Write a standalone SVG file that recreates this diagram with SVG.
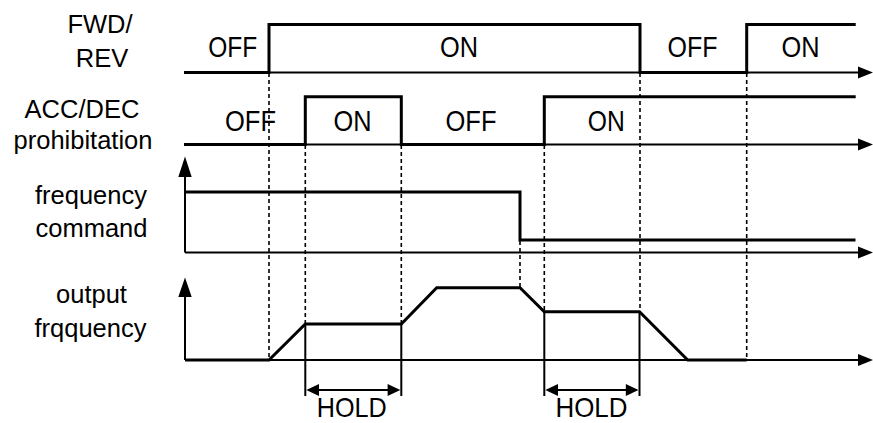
<svg xmlns="http://www.w3.org/2000/svg" width="873" height="423" viewBox="0 0 873 423">
<style>
.lbl{font-family:"Liberation Sans",Arial,sans-serif;font-size:25.5px;fill:#000;text-anchor:middle}
.st{font-family:"Liberation Sans",Arial,sans-serif;font-size:30px;fill:#000;text-anchor:middle}
.hold{font-family:"Liberation Sans",Arial,sans-serif;font-size:27.5px;fill:#000;text-anchor:middle}
.axis{fill:none;stroke:#000;stroke-width:2}
.sig{fill:none;stroke:#000;stroke-width:3;stroke-linejoin:miter}
.dash{fill:none;stroke:#000;stroke-width:1.6;stroke-dasharray:4 3}
.solid{fill:none;stroke:#000;stroke-width:2}
.head{fill:#000}
</style>
<rect width="873" height="423" fill="#fff"/>
<g id="labels">
<text class="lbl" x="100" y="33">FWD/</text>
<text class="lbl" x="102" y="66.5">REV</text>
<text class="lbl" x="82" y="118">ACC/DEC</text>
<text class="lbl" x="83" y="149">prohibitation</text>
<text class="lbl" x="91" y="203.5">frequency</text>
<text class="lbl" x="91.5" y="236.5">command</text>
<text class="lbl" x="91.5" y="303">output</text>
<text class="lbl" x="90.5" y="336.5">frqquency</text>
</g>
<g id="guides">
<line class="dash" x1="269" y1="73" x2="269" y2="360"/>
<line class="dash" x1="305.3" y1="145" x2="305.3" y2="324"/>
<line class="dash" x1="401.3" y1="145" x2="401.3" y2="324"/>
<line class="dash" x1="520" y1="241" x2="520" y2="288"/>
<line class="dash" x1="544.3" y1="145" x2="544.3" y2="311.7"/>
<line class="dash" x1="640" y1="73" x2="640" y2="311.7"/>
<line class="dash" x1="746.7" y1="73" x2="746.7" y2="360"/>
</g>
<g id="axes">
<line class="axis" x1="184" y1="72.5" x2="860" y2="72.5"/>
<polygon class="head" points="873,72.5 858,66.5 858,78.5"/>
<line class="axis" x1="184" y1="144.5" x2="860" y2="144.5"/>
<polygon class="head" points="873,144.5 858,138.5 858,150.5"/>
<line class="axis" x1="185" y1="252.5" x2="860" y2="252.5"/>
<polygon class="head" points="873,252.5 858,246.5 858,258.5"/>
<line class="axis" x1="185" y1="252.5" x2="185" y2="170"/>
<polygon class="head" points="185,156.5 178.3,177 191.7,177"/>
<line class="axis" x1="185" y1="360" x2="860" y2="360"/>
<polygon class="head" points="873,360 858,354 858,366"/>
<line class="axis" x1="185" y1="360" x2="185" y2="290"/>
<polygon class="head" points="185,277.5 178.3,297 191.7,297"/>
</g>
<g id="fwd-rev">
<polyline class="sig" points="184,72.5 269,72.5 269,24.5 640,24.5 640,72.5 746.7,72.5 746.7,24.5 855.7,24.5"/>
<text class="st" x="232.8" y="57" textLength="49" lengthAdjust="spacingAndGlyphs">OFF</text>
<text class="st" x="459" y="57" textLength="38" lengthAdjust="spacingAndGlyphs">ON</text>
<text class="st" x="692.5" y="57" textLength="50" lengthAdjust="spacingAndGlyphs">OFF</text>
<text class="st" x="800.5" y="57" textLength="38" lengthAdjust="spacingAndGlyphs">ON</text>
</g>
<g id="acc-dec">
<polyline class="sig" points="184,144.5 305.3,144.5 305.3,96.7 401.3,96.7 401.3,144.5 544.3,144.5 544.3,96.7 855.7,96.7"/>
<text class="st" x="250.5" y="131" textLength="51" lengthAdjust="spacingAndGlyphs">OFF</text>
<text class="st" x="352.5" y="131" textLength="38" lengthAdjust="spacingAndGlyphs">ON</text>
<text class="st" x="471" y="131" textLength="51" lengthAdjust="spacingAndGlyphs">OFF</text>
<text class="st" x="606.3" y="131" textLength="37" lengthAdjust="spacingAndGlyphs">ON</text>
</g>
<g id="frequency-command">
<polyline class="sig" points="185,192 520,192 520,240 855.5,240"/>
</g>
<g id="output-frequency">
<polyline class="sig" points="185,360 269,360 305.3,324 401.3,324 436.7,287.7 520,287.7 544.3,311.7 639.5,311.7 687.7,360 746.7,360"/>
</g>
<g id="hold-markers">
<line class="solid" x1="305.3" y1="324" x2="305.3" y2="396"/>
<line class="solid" x1="401.3" y1="324" x2="401.3" y2="396"/>
<line class="solid" x1="317" y1="390" x2="390" y2="390"/>
<polygon class="head" points="306.3,390 319,384 319,396"/>
<polygon class="head" points="400.3,390 387.6,384 387.6,396"/>
<text class="hold" x="351.7" y="416.5" textLength="70" lengthAdjust="spacingAndGlyphs">HOLD</text>
<line class="solid" x1="544.3" y1="311.7" x2="544.3" y2="396"/>
<line class="solid" x1="639.5" y1="311.7" x2="639.5" y2="396"/>
<line class="solid" x1="556" y1="390" x2="628" y2="390"/>
<polygon class="head" points="545.3,390 558,384 558,396"/>
<polygon class="head" points="638.5,390 625.8,384 625.8,396"/>
<text class="hold" x="591.5" y="416.5" textLength="72" lengthAdjust="spacingAndGlyphs">HOLD</text>
</g>
</svg>
